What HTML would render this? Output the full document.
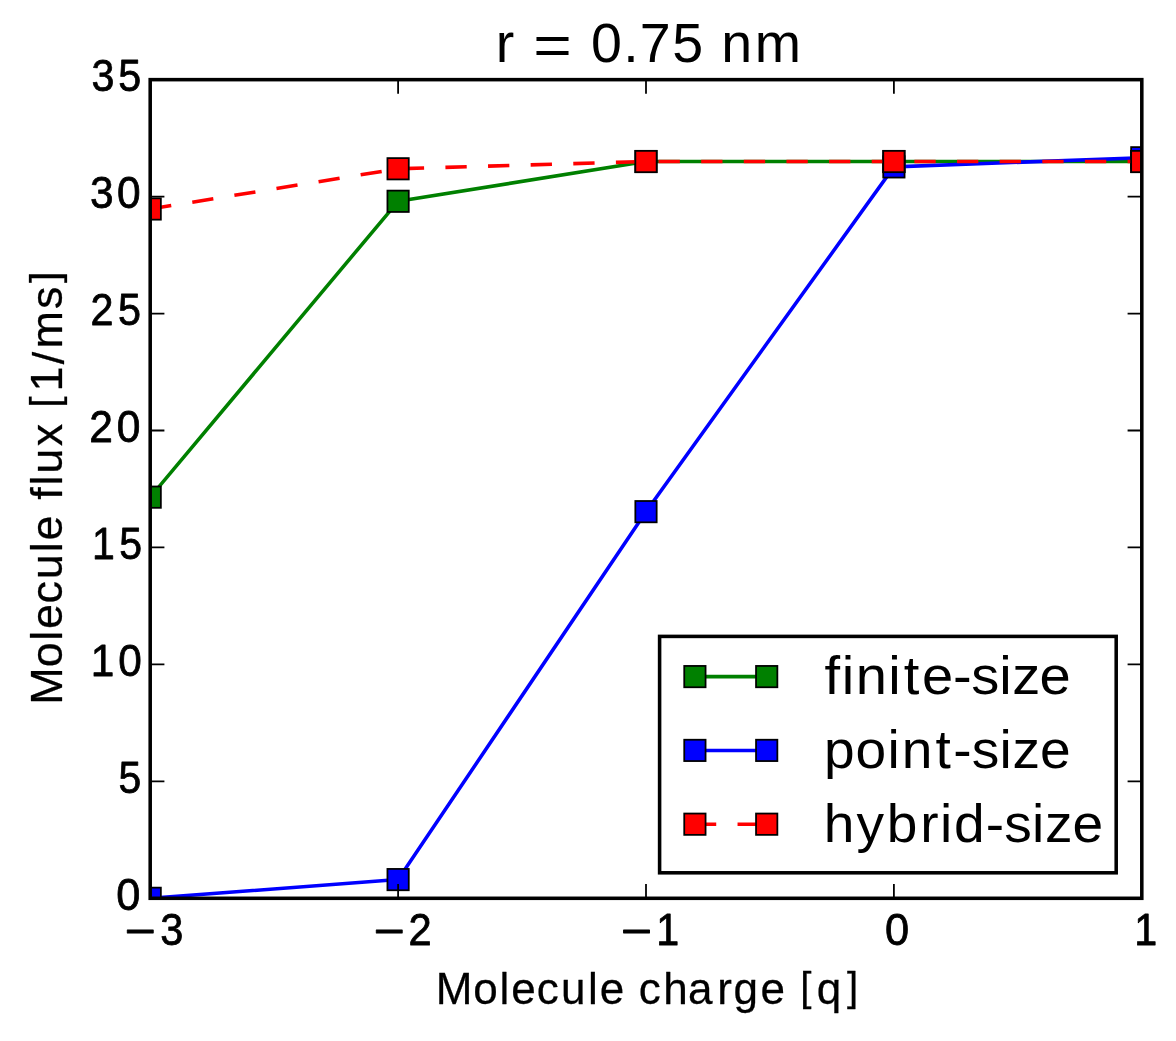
<!DOCTYPE html>
<html lang="en"><head><meta charset="utf-8"><title>r = 0.75 nm</title>
<style>html,body{margin:0;padding:0;background:#fff;overflow:hidden}svg{display:block;will-change:transform}.t{font-family:"Liberation Sans",sans-serif;font-size:100px;fill:#000;font-kerning:none;font-variant-ligatures:none;white-space:pre;stroke-linejoin:round}</style></head><body>
<svg width="1176" height="1041" viewBox="0 0 1176 1041" role="img" aria-label="Molecule flux versus molecule charge for r = 0.75 nm">
<rect width="1176" height="1041" fill="#fff"/>
<defs><clipPath id="ax"><rect x="150.2" y="79.65" width="991.6" height="818.65"/></clipPath></defs>
<!-- data series (clipped to the axes box): finite-size, point-size, hybrid-size -->
<g id="series" clip-path="url(#ax)">
<polyline points="150.2,497.16 398.1,201.28 646,161.51 893.9,161.51 1141.8,161.51" fill="none" stroke="#008000" stroke-width="3.55" stroke-linejoin="round"/>
<rect x="139.54" y="486.5" width="21.32" height="21.32" fill="#008000" stroke="#000" stroke-width="1.78"/>
<rect x="387.44" y="190.62" width="21.32" height="21.32" fill="#008000" stroke="#000" stroke-width="1.78"/>
<rect x="635.34" y="150.86" width="21.32" height="21.32" fill="#008000" stroke="#000" stroke-width="1.78"/>
<rect x="883.24" y="150.86" width="21.32" height="21.32" fill="#008000" stroke="#000" stroke-width="1.78"/>
<rect x="1131.14" y="150.86" width="21.32" height="21.32" fill="#008000" stroke="#000" stroke-width="1.78"/>
<polyline points="150.2,898.3 398.1,879.59 646,511.66 893.9,166.89 1141.8,157.77" fill="none" stroke="#0000ff" stroke-width="3.55" stroke-linejoin="round"/>
<rect x="139.54" y="887.64" width="21.32" height="21.32" fill="#0000ff" stroke="#000" stroke-width="1.78"/>
<rect x="387.44" y="868.93" width="21.32" height="21.32" fill="#0000ff" stroke="#000" stroke-width="1.78"/>
<rect x="635.34" y="501" width="21.32" height="21.32" fill="#0000ff" stroke="#000" stroke-width="1.78"/>
<rect x="883.24" y="156.24" width="21.32" height="21.32" fill="#0000ff" stroke="#000" stroke-width="1.78"/>
<rect x="1131.14" y="147.11" width="21.32" height="21.32" fill="#0000ff" stroke="#000" stroke-width="1.78"/>
<polyline points="150.2,209 398.1,168.77 646,161.51 893.9,161.51 1141.8,161.51" fill="none" stroke="#ff0000" stroke-width="3.55" stroke-linejoin="round" stroke-dasharray="21.32 21.32"/>
<rect x="139.54" y="198.34" width="21.32" height="21.32" fill="#ff0000" stroke="#000" stroke-width="1.78"/>
<rect x="387.44" y="158.11" width="21.32" height="21.32" fill="#ff0000" stroke="#000" stroke-width="1.78"/>
<rect x="635.34" y="150.86" width="21.32" height="21.32" fill="#ff0000" stroke="#000" stroke-width="1.78"/>
<rect x="883.24" y="150.86" width="21.32" height="21.32" fill="#ff0000" stroke="#000" stroke-width="1.78"/>
<rect x="1131.14" y="150.86" width="21.32" height="21.32" fill="#ff0000" stroke="#000" stroke-width="1.78"/>
</g>
<!-- ticks, frame and tick labels -->
<path d="M150.2 898.3v-14.21M150.2 79.65v14.21M398.1 898.3v-14.21M398.1 79.65v14.21M646 898.3v-14.21M646 79.65v14.21M893.9 898.3v-14.21M893.9 79.65v14.21M1141.8 898.3v-14.21M1141.8 79.65v14.21M150.2 898.3h14.21M1141.8 898.3h-14.21M150.2 781.35h14.21M1141.8 781.35h-14.21M150.2 664.4h14.21M1141.8 664.4h-14.21M150.2 547.45h14.21M1141.8 547.45h-14.21M150.2 430.5h14.21M1141.8 430.5h-14.21M150.2 313.55h14.21M1141.8 313.55h-14.21M150.2 196.6h14.21M1141.8 196.6h-14.21M150.2 79.65h14.21M1141.8 79.65h-14.21" stroke="#000" stroke-width="1.78" fill="none"/>
<rect x="150.2" y="79.65" width="991.6" height="818.65" fill="none" stroke="#000" stroke-width="3.55"/>
<text class="t" stroke="#000" stroke-width="1.8" transform="translate(0 945) scale(0.4159 0.4360)" x="300.16 385.53" y="2.6 0"><tspan textLength="74.98" lengthAdjust="spacingAndGlyphs">−</tspan>3</text>
<text class="t" stroke="#000" stroke-width="1.8" transform="translate(0 945) scale(0.4168 0.4360)" x="896.52 980.18" y="2.6 0"><tspan textLength="74.81" lengthAdjust="spacingAndGlyphs">−</tspan>2</text>
<text class="t" stroke="#000" stroke-width="1.8" transform="translate(0 945) scale(0.4121 0.4360)" x="1506.9 1592.78" y="2.6 0"><tspan textLength="75.69" lengthAdjust="spacingAndGlyphs">−</tspan>1</text>
<text class="t" stroke="#000" stroke-width="1.8" transform="translate(0 945) scale(0.4332 0.4360)" x="2043.07">0</text>
<text class="t" stroke="#000" stroke-width="1.8" transform="translate(0 945) scale(0.4121 0.4360)" x="2752.36">1</text>
<text class="t" stroke="#000" stroke-width="1.8" transform="translate(0 910) scale(0.4332 0.4360)" x="268.28">0</text>
<text class="t" stroke="#000" stroke-width="1.8" transform="translate(0 793) scale(0.4087 0.4360)" x="289.75">5</text>
<text class="t" stroke="#000" stroke-width="1.8" transform="translate(0 676) scale(0.4232 0.4360)" x="214.74 279.31">10</text>
<text class="t" stroke="#000" stroke-width="1.8" transform="translate(0 559) scale(0.4103 0.4360)" x="224.55 290.69">15</text>
<text class="t" stroke="#000" stroke-width="1.8" transform="translate(0 442) scale(0.4252 0.4360)" x="209.66 274.79">20</text>
<text class="t" stroke="#000" stroke-width="1.8" transform="translate(0 325) scale(0.4127 0.4360)" x="219.52 286.21">25</text>
<text class="t" stroke="#000" stroke-width="1.8" transform="translate(0 208) scale(0.4246 0.4360)" x="211.92 275.7">30</text>
<text class="t" stroke="#000" stroke-width="1.8" transform="translate(0 91) scale(0.4123 0.4360)" x="221.71 286.98">35</text>
<!-- axis labels and title -->
<text class="t" stroke="#000" stroke-width="0.6" transform="translate(0 1004) scale(0.4404 0.4448)" x="989.48 1074.59 1134.27 1160.92 1218.71 1274.04 1335.01 1361.66 1412.84 1450.18 1505.78 1562.35 1628.51 1665.4 1726.61 1777.78 1817.38 1854.65 1923.35" y="0 0 0 0 0 0 0 0 0 0 0 0 0 0 0 0 -6.38 0 -6.38">Molecule charge <tspan font-size="91.56">[</tspan>q<tspan font-size="91.56">]</tspan></text>
<text class="t" stroke="#000" stroke-width="0.6" transform="translate(61.5 700.3) rotate(-90) scale(0.4492 0.4448)" x="-10.01 73.79 132.68 158.54 215.3 269.57 329.72 355.58 406.75 446.57 478.02 504.37 565.32 614.24 651.1 687.62 748.24 782.93 870.93 929.2" y="0 0 0 0 0 0 0 0 0 0 0 0 0 0 -6.39 0 5.26 0 0 -6.39">Molecule flux <tspan font-size="91.65">[</tspan>1/ms<tspan font-size="91.65">]</tspan></text>
<text class="t" transform="translate(0 62) scale(0.5559 0.5480)" x="892.03 923.67 959.17 1022.62 1063.13 1120.96 1150.82 1209.26 1260.67 1297.6 1357.85" y="0 0 3.67 0 0 -0.45 0 0 0 0 0">r <tspan textLength="69.3" lengthAdjust="spacingAndGlyphs">=</tspan> 0.75 nm</text>
<!-- legend -->
<g id="legend">
<rect x="659.6" y="636.4" width="456.6" height="236.4" fill="#fff" stroke="#000" stroke-width="3.55"/>
<path d="M694.9 676.6H766.7" stroke="#008000" stroke-width="3.55" fill="none"/>
<rect x="684.24" y="665.94" width="21.32" height="21.32" fill="#008000" stroke="#000" stroke-width="1.78"/>
<rect x="756.04" y="665.94" width="21.32" height="21.32" fill="#008000" stroke="#000" stroke-width="1.78"/>
<text class="t" transform="translate(0 694) scale(0.5612 0.5340)" x="1469.36 1499.77 1524.77 1582.88 1610.34 1642.78 1698.25 1730.76 1780.45 1803.57 1852.46" y="0 0 0 0 0 0 0.31 0 0 0 0">finite-size</text>
<path d="M694.9 750.4H766.7" stroke="#0000ff" stroke-width="3.55" fill="none"/>
<rect x="684.24" y="739.74" width="21.32" height="21.32" fill="#0000ff" stroke="#000" stroke-width="1.78"/>
<rect x="756.04" y="739.74" width="21.32" height="21.32" fill="#0000ff" stroke="#000" stroke-width="1.78"/>
<text class="t" transform="translate(0 768) scale(0.5516 0.5340)" x="1493.88 1551.17 1609.16 1634.89 1695.94 1728.36 1761.57 1811.9 1835.66 1885.46" y="0 0 0 0 0 0.31 0 0 0 0">point-size</text>
<path d="M694.9 824.2H766.7" stroke="#ff0000" stroke-width="3.55" fill="none" stroke-dasharray="21.32 21.32"/>
<rect x="684.24" y="813.54" width="21.32" height="21.32" fill="#ff0000" stroke="#000" stroke-width="1.78"/>
<rect x="756.04" y="813.54" width="21.32" height="21.32" fill="#ff0000" stroke="#000" stroke-width="1.78"/>
<text class="t" transform="translate(0 842) scale(0.5512 0.5340)" x="1494.47 1554.09 1608.79 1669.67 1705.51 1730.59 1788.49 1821.74 1872.09 1895.88 1945.72" y="0 0 0 0 0 0 0.31 0 0 0 0">hybrid-size</text>
</g>
</svg></body></html>
